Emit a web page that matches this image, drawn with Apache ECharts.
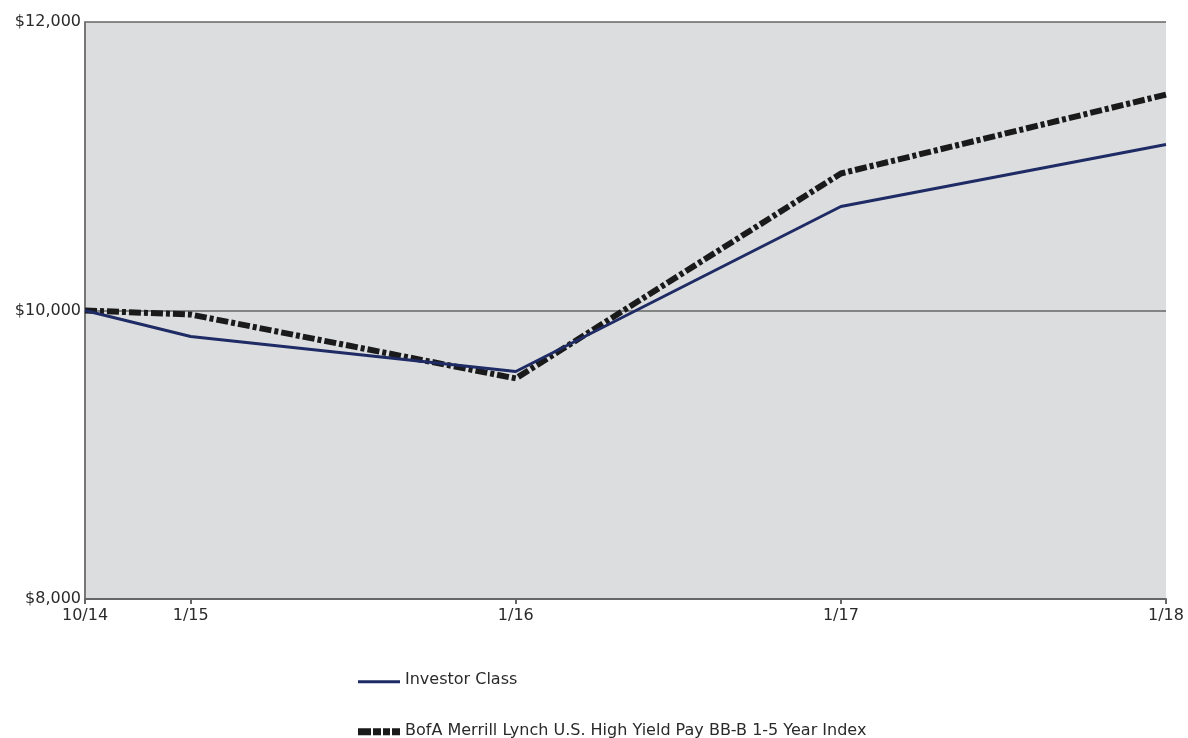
<!DOCTYPE html>
<html><head><meta charset="utf-8">
<script src="https://cdn.jsdelivr.net/npm/echarts@6/dist/echarts.min.js"></script>
<style>html,body{margin:0;padding:0;background:#fff}#c{width:1188px;height:738px}</style>
</head><body><div id="c"></div>
<script>
// months since start of period
const xMonths = [0, 3.9, 15.9, 27.9, 39.9];
const xLabels = ['10/14', '1/15', '1/16', '1/17', '1/18'];
const investorClass = [10000, 9820, 9577, 10721, 11151];
const bofaIndex = [10000, 9972, 9529, 10950, 11497];
const yTicks = [8000, 10000, 12000];
const seriesNames = ['Investor Class', 'BofA Merrill Lynch U.S. High Yield Pay BB-B 1-5 Year Index'];

const font = 'DejaVu Sans';
const legendText = {fontFamily: font, fontSize: 16, color: '#2a2a2a'};
const chart = echarts.init(document.getElementById('c'), null, {renderer: 'canvas'});
chart.setOption({
  animation: false,
  backgroundColor: '#ffffff',
  grid: {left: 85, top: 22, right: 22, bottom: 139, show: true, backgroundColor: '#dcdddf', borderWidth: 0},
  legend: [
    {
      left: 353, top: 667, itemWidth: 42, itemHeight: 10, itemGap: 4,
      textStyle: legendText, selectedMode: false,
      data: [{name: seriesNames[0], icon: 'path://M0,0h0.01v0.01h-0.01z M0,3.5h42v3h-42z', itemStyle: {color: '#1e2b64'}}]
    },
    {
      left: 353, top: 718, itemWidth: 42, itemHeight: 10, itemGap: 4,
      textStyle: legendText, selectedMode: false,
      data: [{name: seriesNames[1], icon: 'path://M0,0h0.01v0.01h-0.01z M0,1.5h13v7h-13z M15,1.5h8v7h-8z M25,1.5h7v7h-7z M34,1.5h8v7h-8z', itemStyle: {color: '#1a1a1a'}}]
    }
  ],
  xAxis: {
    type: 'value', min: xMonths[0], max: xMonths[xMonths.length - 1],
    axisLine: {show: true, lineStyle: {color: '#666', width: 2}},
    axisTick: {show: true, customValues: xMonths, length: 5, lineStyle: {color: '#666', width: 2}},
    axisLabel: {
      customValues: xMonths, margin: 9,
      fontFamily: font, fontSize: 16, color: '#2a2a2a',
      formatter: v => { const i = xMonths.findIndex(m => Math.abs(m - v) < 1e-6); return i >= 0 ? xLabels[i] : ''; }
    },
    splitLine: {show: false}
  },
  yAxis: {
    type: 'value', min: yTicks[0], max: yTicks[yTicks.length - 1], interval: 2000,
    axisLine: {show: true, lineStyle: {color: '#777', width: 2}},
    axisTick: {show: false},
    axisLabel: {
      margin: 4, fontFamily: font, fontSize: 16, color: '#2a2a2a',
      formatter: v => '$' + v.toLocaleString('en-US')
    },
    splitLine: {show: true, lineStyle: {color: '#666', width: 1.5}}
  },
  series: [
    {
      name: seriesNames[1], type: 'line',
      data: xMonths.map((x, i) => [x, bofaIndex[i]]),
      showSymbol: false, symbol: 'none',
      lineStyle: {color: '#1a1a1a', width: 6, type: [12, 3, 4, 3]},
      itemStyle: {color: '#1a1a1a'}, z: 3
    },
    {
      name: seriesNames[0], type: 'line',
      data: xMonths.map((x, i) => [x, investorClass[i]]),
      showSymbol: false, symbol: 'none',
      lineStyle: {color: '#1e2b64', width: 3},
      itemStyle: {color: '#1e2b64'}, z: 4
    }
  ]
});
</script></body></html>
